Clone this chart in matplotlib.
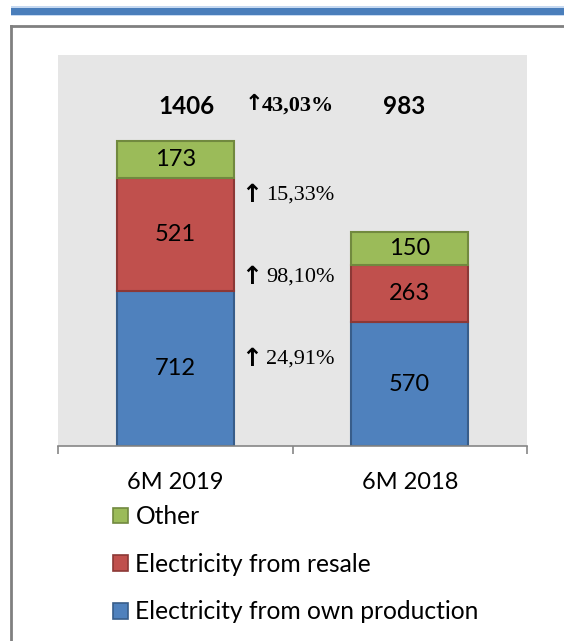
import matplotlib.pyplot as plt
from matplotlib.patches import Rectangle, Patch

categories = ['6M 2019', '6M 2018']
own_production = [712, 570]
resale = [521, 263]
other = [173, 150]
series_names = ['Electricity from own production', 'Electricity from resale', 'Other']

colors = ['#4F81BD', '#C0504D', '#9BBB59']
edges = ['#385D8A', '#8C3836', '#71893F']

W, H = 564, 641
fig = plt.figure(figsize=(W / 100, H / 100), dpi=100)

# page decorations: blue band on top and the grey frame
fig.patches.append(Rectangle((11 / W, 1 - 16 / H), 1, 10 / H, transform=fig.transFigure,
                             facecolor='#C6D9F1', edgecolor='none'))
fig.patches.append(Rectangle((11 / W, 1 - 15 / H), 1, 7 / H, transform=fig.transFigure,
                             facecolor='#4A7EBB', edgecolor='none'))
fig.add_artist(plt.Line2D([10.5 / W, 1], [1 - 26 / H, 1 - 26 / H], color='#808080', lw=2))
fig.add_artist(plt.Line2D([10.5 / W, 10.5 / W], [0, 1 - 26 / H], color='#808080', lw=2))

ax = fig.add_axes([58 / W, 1 - 446 / H, (527 - 58) / W, (446 - 55) / H])
ax.set_facecolor('#E6E6E6')

x = range(len(categories))
stacks = [own_production, resale, other]
bottom = [0, 0]
for vals, c, e, name in zip(stacks, colors, edges, series_names):
    bars = ax.bar(x, vals, 0.5, bottom=bottom, color=c, edgecolor=e, linewidth=1.5, label=name)
    for b, v in zip(bars, vals):
        ax.text(b.get_x() + b.get_width() / 2, b.get_y() + v / 2, str(v),
                ha='center', va='center', fontsize=17, family='Lato')
    bottom = [b + v for b, v in zip(bottom, vals)]

totals = bottom
total_x = [0.048, 0.976]
for tx, t in zip(total_x, totals):
    ax.text(tx, 1563, str(t), ha='center', va='center', fontsize=17.5, fontweight='bold', family='Lato')


def pct(a, b):
    return ('%.2f%%' % ((a / b - 1) * 100)).replace('.', ',')


# growth labels between the bars
growth_y = [401, 779, 1157]
for vals, gy in zip(stacks, growth_y):
    ax.text(0.37, gy, '\u2191', ha='right', va='center', fontsize=18, fontweight='bold',
            family='DejaVu Sans')
    ax.text(0.387, gy, pct(vals[0], vals[1]), ha='left', va='center', fontsize=16,
            family='Liberation Serif')
ax.text(0.376, 1575, '\u2191', ha='right', va='center', fontsize=16, fontweight='bold',
        family='DejaVu Sans')
ax.text(0.37, 1568, pct(totals[0], totals[1]), ha='left', va='center', fontsize=16,
        fontweight='bold', family='Liberation Serif')

ax.set_xlim(-0.5, 1.5)
ax.set_ylim(0, 1800)
ax.set_yticks([])
ax.set_xticks([-0.5, 0.5, 1.5])
ax.set_xticklabels([])
ax.set_xticks(list(x), minor=True)
ax.set_xticklabels(categories, minor=True, fontsize=17, family='Lato')
ax.tick_params(axis='x', which='major', length=6, color='#868686', width=1.2)
ax.tick_params(axis='x', which='minor', length=0, pad=18.5)
for s in ['top', 'left', 'right']:
    ax.spines[s].set_visible(False)
ax.spines['bottom'].set_color('#868686')
ax.spines['bottom'].set_linewidth(1.2)

handles = [Patch(facecolor=c, edgecolor=e, lw=1.2) for c, e in zip(colors, edges)][::-1]
fig.legend(handles, series_names[::-1], loc='upper left', bbox_to_anchor=(91 / W, 1 - 483 / H),
           frameon=False, prop={'family': 'Lato', 'size': 17.7}, handlelength=0.62,
           handleheight=0.62, handletextpad=0.29, labelspacing=1.0)

fig.savefig('out.png', dpi=100)
